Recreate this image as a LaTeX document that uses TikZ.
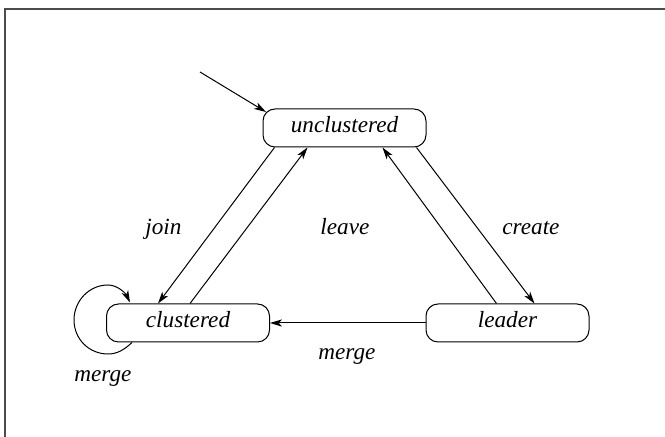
\documentclass[tikz,border=0pt]{standalone}
\usepackage{fontspec}
\setmainfont{Liberation Serif}
\usetikzlibrary{arrows.meta,calc}
\begin{document}
\begin{tikzpicture}[x=0.5pt,y=-0.5pt,
  state/.style={draw, line width=0.5pt, rounded corners=6pt, minimum width=81.5pt, minimum height=19pt, inner sep=0pt, text height=8pt, text depth=3pt, font=\fontsize{11.6}{14}\selectfont\itshape},
  lbl/.style={anchor=base west, inner sep=0pt, font=\fontsize{11.6}{14}\selectfont\itshape},
  tr/.style={line width=0.5pt, -{Stealth[length=6pt,width=3.6pt,inset=1.6pt]}}]
\useasboundingbox (0,0) rectangle (665,437);
\draw[line width=1pt, black!70] (5,440) -- (5,9) -- (670,9);
\node[state] (u) at (344.5,128) {unclustered};
\node[state] (c) at (188,323) {clustered};
\node[state] (l) at (507.5,323) {leader};
\coordinate (init) at (200,72);
\draw[tr] (init) -- ($(u.north west)+(3.5,3.5)$);
\draw[tr] ($(u.south west)+(12,0)$) -- ($(c.north west)+(52,0)$);
\draw[tr] ($(c.north west)+(84,0)$) -- ($(u.south west)+(45,0)$);
\draw[tr] ($(u.south east)+(-10,0)$) -- ($(l.north west)+(109,0)$);
\draw[tr] ($(l.north west)+(71,0)$) -- ($(u.south east)+(-44,0)$);
\draw[tr] (l.west) -- (c.east);
\coordinate (ls) at ($(c.south west)+(26,0)$);
\coordinate (le) at ($(c.north west)+(24,-1)$);
\draw[tr] (ls) .. controls (124,350) and (117,354) .. (108,354)
  .. controls (89,354) and (74,339) .. (74,320)
  .. controls (74,301) and (89,285) .. (108,285)
  .. controls (118,285) and (126,294) .. (le);
\node[lbl] (ljoin) at (145,235) {join};
\node[lbl] (lleave) at (320,235) {leave};
\node[lbl] (lcreate) at (502,235) {create};
\node[lbl] (lmerge) at (318,360) {merge};
\node[lbl] (lmerge2) at (74,382) {merge};
\end{tikzpicture}
\end{document}
